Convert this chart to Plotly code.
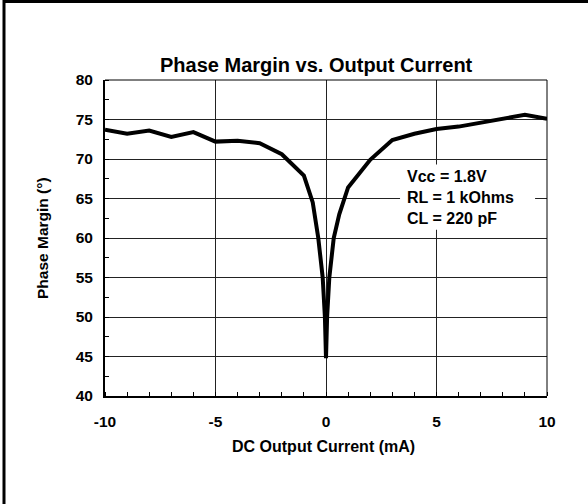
import plotly.graph_objects as go

# Data
current_ma = [-10, -9, -8, -7, -6, -5, -4, -3, -2, -1, -0.6, -0.35, -0.15, -0.05, 0,
              0.05, 0.15, 0.35, 0.6, 1, 2, 3, 4, 5, 6, 7, 8, 9, 10]
phase_margin = [73.7, 73.2, 73.6, 72.8, 73.4, 72.2, 72.3, 72.0, 70.6, 67.9, 64.5, 60.0, 55.0, 50.0, 44.8,
                50.0, 55.0, 60.0, 63.0, 66.4, 69.9, 72.4, 73.2, 73.8, 74.1, 74.6, 75.2, 75.6, 75.1]

x_ticks = [-10, -5, 0, 5, 10]
y_ticks = [40, 45, 50, 55, 60, 65, 70, 75, 80]

title_text = "Phase Margin vs. Output Current"
x_title = "DC Output Current (mA)"
y_title = "Phase Margin (°)"
note_text = "Vcc = 1.8V<br>RL = 1 kOhms<br>CL = 220 pF"

FONT = "Liberation Sans, Arial, sans-serif"

fig = go.Figure()
fig.add_trace(go.Scatter(
    x=current_ma, y=phase_margin, mode="lines",
    line=dict(color="black", width=4), showlegend=False, hoverinfo="skip",
))

fig.update_layout(
    width=588, height=504,
    margin=dict(l=105, r=41, t=80, b=108, pad=0),
    paper_bgcolor="white", plot_bgcolor="white",
    font=dict(family=FONT, color="black"),
    showlegend=False,
)

fig.update_xaxes(
    range=[-10, 10], tickvals=x_ticks, ticktext=[str(v) for v in x_ticks],
    showgrid=True, gridcolor="#222", gridwidth=1,
    zeroline=False, showline=True, linecolor="black", linewidth=2,
    ticks="", ticklabelstandoff=10,
    tickfont=dict(family=FONT, size=15.5, color="black", weight="bold"),
    minor=dict(dtick=1, tick0=0, ticks="inside", ticklen=4, tickcolor="black", tickwidth=1, showgrid=False),
    fixedrange=True,
)
fig.update_yaxes(
    range=[40, 80], tickvals=y_ticks, ticktext=[str(v) for v in y_ticks],
    showgrid=True, gridcolor="#222", gridwidth=1,
    zeroline=False, showline=True, linecolor="black", linewidth=2,
    ticks="", ticklabelstandoff=7,
    tickfont=dict(family=FONT, size=15.5, color="black", weight="bold"),
    minor=dict(dtick=2.5, tick0=40, ticks="inside", ticklen=4, tickcolor="black", tickwidth=1, showgrid=False),
    fixedrange=True,
)

# plot frame top/right (thin) and outer page frame (left/top)
fig.add_shape(type="line", xref="paper", yref="paper", x0=0, x1=1, y0=1, y1=1,
              line=dict(color="black", width=1))
fig.add_shape(type="line", xref="paper", yref="paper", x0=1, x1=1, y0=0, y1=1,
              line=dict(color="black", width=1))
fig.add_shape(type="line", xref="paper", yref="paper",
              x0=(4 - 105) / 442, x1=(4 - 105) / 442, y0=(396 - 504) / 316, y1=(396 - 0) / 316,
              line=dict(color="black", width=3))
fig.add_shape(type="line", xref="paper", yref="paper",
              x0=(3 - 105) / 442, x1=(588 - 105) / 442, y0=(396 - 1.5) / 316, y1=(396 - 1.5) / 316,
              line=dict(color="black", width=3))

# white background behind the conditions note (hides grid lines)
fig.add_shape(type="rect", xref="x", yref="y", x0=3.35, x1=9.46, y0=61.05, y1=69.29,
              fillcolor="white", line=dict(width=0), layer="above")

# chart title
fig.add_annotation(text=title_text, xref="paper", yref="paper",
                   x=(316 - 105) / 442, y=(396 - 65) / 316, xanchor="center", yanchor="middle",
                   showarrow=False, font=dict(family=FONT, size=20, color="black", weight="bold"))
# axis titles
fig.add_annotation(text=x_title, xref="paper", yref="paper",
                   x=(323 - 105) / 442, y=(396 - 446.5) / 316, xanchor="center", yanchor="middle",
                   showarrow=False, font=dict(family=FONT, size=16, color="black", weight="bold"))
fig.add_annotation(text=y_title, xref="paper", yref="paper", textangle=-90,
                   x=(42 - 105) / 442, y=(396 - 238) / 316, xanchor="center", yanchor="middle",
                   showarrow=False, font=dict(family=FONT, size=15.5, color="black", weight="bold"))
# conditions note
fig.add_annotation(text=note_text, xref="x", yref="y", x=3.665, y=65.11,
                   xanchor="left", yanchor="middle", align="left", showarrow=False,
                   borderpad=0, borderwidth=0,
                   font=dict(family=FONT, size=16, color="black", weight="bold"))

fig.write_html("out.html", config={"displayModeBar": False},
               post_script="document.body.style.margin='0px';")
